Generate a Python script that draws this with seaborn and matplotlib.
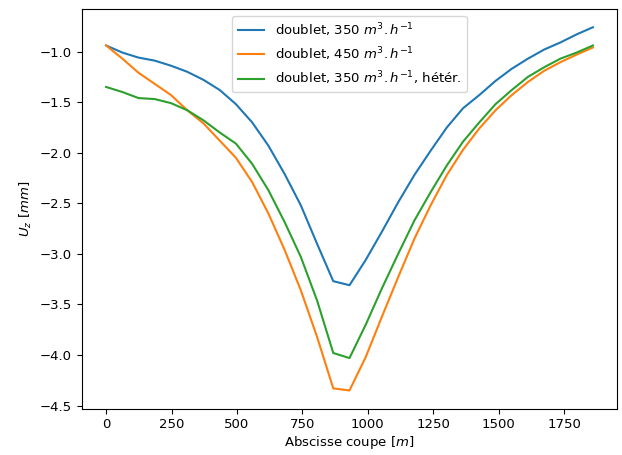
import numpy as np
import pandas as pd
import matplotlib
matplotlib.use("Agg")
import matplotlib.pyplot as plt
import seaborn as sns

plt.rcParams['font.size'] = 9.5

# abscissa along the cross-section (m)
abscisse = [0, 62, 124, 186, 248, 310, 372, 434, 496, 558, 620, 682, 744, 806,
            868, 930, 992, 1054, 1116, 1178, 1240, 1302, 1364, 1426, 1488,
            1550, 1612, 1674, 1736, 1798, 1860]

# vertical displacement U_z (mm)
uz_350 = [-0.94, -1.01, -1.06, -1.09, -1.14, -1.20, -1.28, -1.38, -1.52, -1.70,
          -1.93, -2.21, -2.52, -2.90, -3.27, -3.31, -3.06, -2.78, -2.49, -2.22,
          -1.98, -1.75, -1.56, -1.43, -1.29, -1.17, -1.07, -0.98, -0.91, -0.83,
          -0.76]
uz_450 = [-0.94, -1.07, -1.21, -1.32, -1.43, -1.58, -1.71, -1.88, -2.05, -2.29,
          -2.60, -2.96, -3.36, -3.82, -4.33, -4.35, -4.02, -3.62, -3.23, -2.85,
          -2.52, -2.22, -1.97, -1.76, -1.58, -1.43, -1.30, -1.19, -1.105, -1.03,
          -0.96]
uz_350_het = [-1.35, -1.40, -1.46, -1.47, -1.51, -1.58, -1.68, -1.80, -1.91,
              -2.11, -2.37, -2.685, -3.03, -3.46, -3.98, -4.03, -3.70, -3.34,
              -3.00, -2.67, -2.39, -2.125, -1.89, -1.70, -1.52, -1.38, -1.25,
              -1.155, -1.07, -1.01, -0.94]

labels = [r'doublet, 350 $m^3.h^{-1}$',
          r'doublet, 450 $m^3.h^{-1}$',
          r'doublet, 350 $m^3.h^{-1}$, hétér.']

df = pd.DataFrame({
    'x': abscisse * 3,
    'uz': uz_350 + uz_450 + uz_350_het,
    'cas': np.repeat(labels, len(abscisse)),
})

fig = plt.figure(figsize=(6.22, 4.55), dpi=100)
ax = fig.add_axes([0.1314, 0.102, 0.861, 0.878])

palette = sns.color_palette("tab10", 3)
sns.lineplot(data=df, x='x', y='uz', hue='cas', hue_order=labels,
             palette=palette, linewidth=1.5, ax=ax, sort=False)

ax.set_xticks([0, 250, 500, 750, 1000, 1250, 1500, 1750])
ax.set_xlabel(r'Abscisse coupe [$m$]', labelpad=2)
ax.set_ylabel(r'$U_z$ [$mm$]')
ax.legend(loc='upper center', title=None)

plt.savefig('out.png', dpi=100)
plt.close()
